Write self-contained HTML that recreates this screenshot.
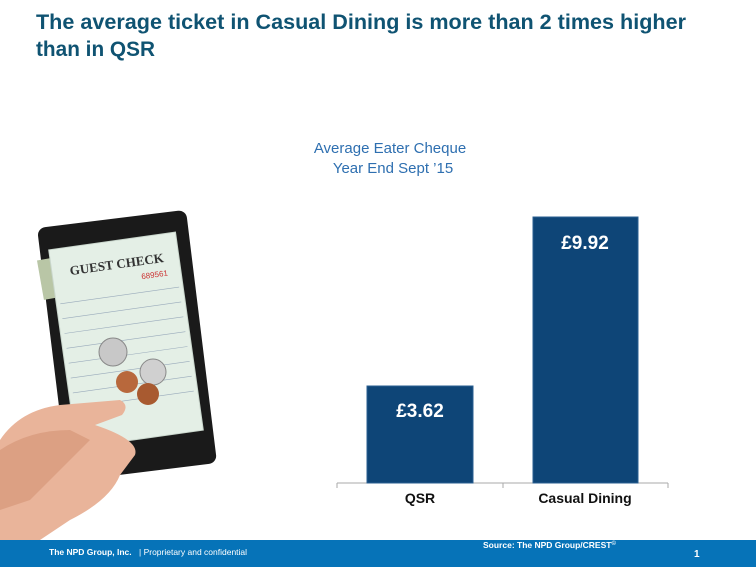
<!DOCTYPE html>
<html><head><meta charset="utf-8"><style>
html,body{margin:0;padding:0;background:#fff;}
svg{display:block;}
</style></head><body>
<svg width="756" height="567" viewBox="0 0 756 567" xmlns="http://www.w3.org/2000/svg">
<rect width="756" height="567" fill="#fff"/>
<g font-family="Liberation Sans, sans-serif" font-weight="bold" fill="#0f5372" font-size="21">
<text x="36" y="29" textLength="650" lengthAdjust="spacingAndGlyphs">The average ticket in Casual Dining is more than 2 times higher</text>
<text x="36" y="56" textLength="119" lengthAdjust="spacingAndGlyphs">than in QSR</text>
</g>
<g font-family="Liberation Sans, sans-serif" fill="#2e6fb0" font-size="15" text-anchor="middle">
<text x="390" y="153">Average Eater Cheque</text>
<text x="393" y="173">Year End  Sept ’15</text>
</g>
<!-- illustration -->
<g>
<rect x="52" y="218" width="150" height="255" rx="8" fill="#1a1a1a" transform="rotate(-7 127 345)"/>
<rect x="40" y="255" width="60" height="40" fill="#b9c6a6" transform="rotate(-10 70 275)"/>
<rect x="62" y="240" width="128" height="200" fill="#e4efe6" stroke="#c9d6cc" transform="rotate(-8 126 340)"/>
<text x="80" y="268" font-family="Liberation Serif, serif" font-weight="bold" font-size="13" fill="#333" transform="rotate(-8 126 340)">GUEST CHECK</text>
<text x="150" y="282" font-family="Liberation Sans, sans-serif" font-size="8" fill="#c33" transform="rotate(-8 126 340)">689561</text>
<g stroke="#9ab" stroke-width="0.6" transform="rotate(-8 126 340)">
<line x1="66" y1="295" x2="186" y2="295"/><line x1="66" y1="310" x2="186" y2="310"/>
<line x1="66" y1="325" x2="186" y2="325"/><line x1="66" y1="340" x2="186" y2="340"/>
<line x1="66" y1="355" x2="186" y2="355"/><line x1="66" y1="370" x2="186" y2="370"/>
<line x1="66" y1="385" x2="186" y2="385"/><line x1="66" y1="400" x2="186" y2="400"/>
</g>
<circle cx="113" cy="352" r="14" fill="#c8c8c8" stroke="#888"/>
<circle cx="153" cy="372" r="13" fill="#d0d0d0" stroke="#888"/>
<circle cx="127" cy="382" r="11" fill="#b8683c"/>
<circle cx="148" cy="394" r="11" fill="#a85a30"/>
<path d="M0 440 Q20 410 60 405 L120 400 Q130 405 122 415 L95 425 Q140 440 135 455 L120 475 Q110 500 70 520 L40 540 L0 540 Z" fill="#e9b49a"/>
<path d="M0 450 Q30 430 70 430 L90 440 L60 470 L30 500 L0 510 Z" fill="#dca083"/>
</g>
<!-- chart -->
<line x1="337" y1="483" x2="668" y2="483" stroke="#aaa" stroke-width="1"/>
<line x1="337" y1="483" x2="337" y2="488" stroke="#aaa"/>
<line x1="503" y1="483" x2="503" y2="488" stroke="#aaa"/>
<line x1="668" y1="483" x2="668" y2="488" stroke="#aaa"/>
<rect x="367" y="386" width="106" height="97" fill="#0e4577" stroke="#2a5f90"/>
<rect x="533" y="217" width="105" height="266" fill="#0e4577" stroke="#2a5f90"/>
<g font-family="Liberation Sans, sans-serif" font-weight="bold" fill="#fff" font-size="19" text-anchor="middle">
<text x="420" y="417">£3.62</text>
<text x="585" y="249">£9.92</text>
</g>
<g font-family="Liberation Sans, sans-serif" font-weight="bold" fill="#111" font-size="14" text-anchor="middle">
<text x="420" y="503">QSR</text>
<text x="585" y="503">Casual Dining</text>
</g>
<!-- footer -->
<rect x="0" y="540" width="756" height="27" fill="#0673b8"/>
<g font-family="Liberation Sans, sans-serif" fill="#fff" font-size="8.5">
<text x="49" y="555" font-weight="bold">The NPD Group, Inc.</text>
<text x="139" y="555">|  Proprietary and confidential</text>
<text x="483" y="548" font-weight="bold">Source: The NPD Group/CREST<tspan font-size="6" dy="-3">©</tspan></text>
<text x="694" y="557" font-weight="bold" font-size="10">1</text>
</g>
</svg>
</body></html>
